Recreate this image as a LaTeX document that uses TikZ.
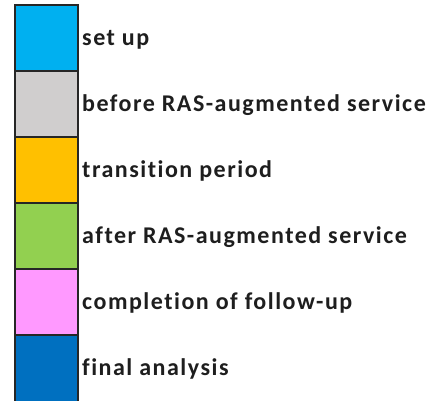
\documentclass[tikz,border=0pt]{standalone}
\usepackage{fontspec}
\setmainfont{Carlito}[LetterSpace=6.3, Ligatures=NoCommon]
\definecolor{cSetup}{HTML}{00B0F0}
\definecolor{cBefore}{HTML}{D0CECE}
\definecolor{cTrans}{HTML}{FFC000}
\definecolor{cAfter}{HTML}{92D050}
\definecolor{cFollow}{HTML}{FF99FF}
\definecolor{cFinal}{HTML}{0070C0}
\definecolor{cEdge}{HTML}{262626}
\definecolor{cText}{HTML}{1E1E1E}
\tikzset{
  swatch/.style={draw=cEdge, line width=1.4bp, fill=#1, minimum width=63bp,
    minimum height=66bp, inner sep=0pt, outer sep=0pt, anchor=north west},
  caption/.style={anchor=base west, text=cText, font=\fontsize{24bp}{28bp}\selectfont\bfseries,
    inner sep=0pt}
}
% caption placed to the right of a swatch, baseline a little below its middle
\newcommand\swatchlabel[3]{\node[caption] (#1) at ([xshift=4bp,yshift=-7.5bp]#2.east) {#3};}
\begin{document}
\begin{tikzpicture}[x=1bp,y=-1bp]
\useasboundingbox (0,0) rectangle (431,401);
\clip (0,0) rectangle (431,401);
\fill[white] (0,0) rectangle (431,401);
\node[swatch=cSetup]  (s1) at (15,5)   {};
\node[swatch=cBefore] (s2) at (15,71)  {};
\node[swatch=cTrans]  (s3) at (15,137) {};
\node[swatch=cAfter]  (s4) at (15,203) {};
\node[swatch=cFollow] (s5) at (15,269) {};
% the last swatch runs on past the lower edge
\node[swatch=cFinal, minimum height=72bp] (s6) at (15,335) {};
\coordinate (m6) at ([yshift=-33bp]s6.north);
\node[caption] (t1) at ([xshift=4bp,yshift=-7.5bp]s1.east) {set up};
\node[caption] (t2) at ([xshift=4bp,yshift=-7.5bp]s2.east) {before RAS-augmented service};
\node[caption] (t3) at ([xshift=4bp,yshift=-7.5bp]s3.east) {transition period};
\node[caption] (t4) at ([xshift=4bp,yshift=-7.5bp]s4.east) {after RAS-augmented service};
\node[caption] (t5) at ([xshift=4bp,yshift=-7.5bp]s5.east) {completion of follow-up};
\node[caption] (t6) at ([xshift=4bp,yshift=-7.5bp]m6 -| s6.east) {final analysis};
\end{tikzpicture}
\end{document}
